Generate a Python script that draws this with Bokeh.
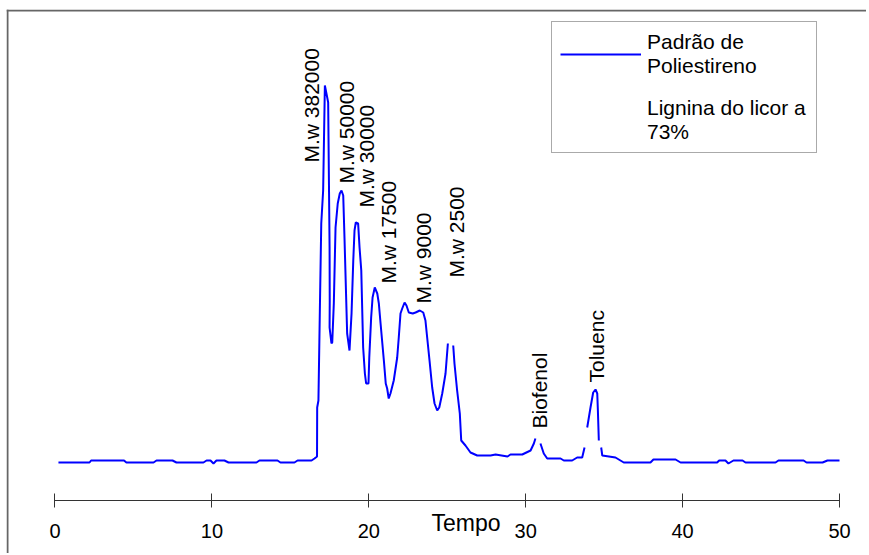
import numpy as np
from bokeh.plotting import figure
from bokeh.models import (LinearAxis, SingleIntervalTicker, Legend, LegendItem,
                          Label, Span, Range1d, ColumnDataSource)
from bokeh.core.properties import value
from bokeh.embed import file_html
from bokeh.resources import INLINE

nan = np.nan

# --- data ---
tempo = [0.22, 2.2, 2.3, 4.4, 4.55, 6.28, 6.47, 7.49, 7.74, 9.46,
         9.66, 9.91, 10.10, 10.29, 10.80, 11.06, 12.84, 13.03, 14.18, 14.37,
         15.26, 15.46, 16.35, 16.54, 16.70,
         16.71, 16.79, 16.88, 16.97, 17.09, 17.20, 17.35, 17.41, 17.50, 17.51,
         17.50, 17.62, 17.67, 17.77, 17.88, 18.02, 18.15, 18.26, 18.37, 18.45,
         18.62, 18.77, 18.90, 19.01, 19.09, 19.17, 19.32, 19.41, 19.52, 19.64,
         19.75, 19.83, 19.98, 20.03, 20.15, 20.24, 20.38, 20.54, 20.64, 20.75,
         20.96, 21.08, 21.17, 21.27, 21.38, 21.59, 21.81, 21.91, 22.02, 22.13,
         22.28, 22.40, 22.55, 22.80, 22.98, 23.25, 23.47, 23.61, 23.72, 23.87,
         24.04, 24.19, 24.36, 24.49, 24.68, 24.89, 25.04, nan, 25.38, 25.46,
         25.63, 25.80, 25.89, 26.16, 26.48, 26.91, 27.76, 28.08, 28.84, 29.03,
         29.78, 30.31, 30.52, 30.62, nan, 30.94, 31.15, 31.37, 32.22, 32.43,
         32.96, 33.28, 33.60, 33.75, nan, 33.92, 34.13, 34.30, 34.45, 34.56,
         34.60, 34.66, nan, 34.81, 34.88, 35.30, 35.72, 36.25, 37.95, 38.14,
         39.55, 39.87, 42.20, 42.33, 42.73, 42.92, 43.24, 43.82, 44.01, 45.92,
         46.11, 47.71, 47.90, 48.92, 49.23, 50.0]

sinal = [9.5, 9.5, 10.0, 10.0, 9.5, 9.5, 10, 10, 9.5, 9.5,
         10, 10, 9.25, 10, 10, 9.5, 9.5, 10, 10, 9.5,
         9.5, 10, 10, 10.5, 11,
         23.25, 25, 47.5, 69.25, 77.5, 103.75, 100.75, 99.5, 63.25, 50,
         43.25, 39.25, 39.5, 49.25, 68.25, 74.25, 76.75, 77.5, 76.25, 65.75,
         41.75, 37.5, 46.75, 60, 67.5, 69.5, 69.25, 63.25, 57.5, 38.25,
         31.75, 29.25, 29.25, 35.75, 45.75, 50.75, 53.25, 51.75, 49.25, 44.25,
         35, 29.25, 28, 25.5, 26.75, 30, 35.75, 40.75, 46.75, 48,
         49.5, 48.75, 47, 46.75, 47, 47.5, 47, 45, 40.75, 35,
         28.25, 24.25, 22.5, 23.25, 26.75, 31.75, 39.25, nan, 38.75, 34.25,
         27.5, 21.75, 15, 13.75, 12, 11.25, 11.25, 11.5, 11, 11.5,
         11.5, 12.5, 14.25, 15.5, nan, 14.25, 11.75, 10.5, 10.5, 10,
         10, 10.75, 10.75, 13.25, nan, 18.25, 23.25, 27, 27.75, 26.75,
         22.5, 15, nan, 13.25, 11.25, 11, 10.75, 9.5, 9.5, 10.25,
         10.25, 9.5, 9.5, 10, 10, 9.25, 10, 10, 9.5, 9.5,
         10, 10, 9.5, 9.5, 10, 10]

assert len(tempo) == len(sinal)

picos_texto = ["M.w 382000", "M.w 50000", "M.w 30000", "M.w 17500",
               "M.w 9000", "M.w 2500", "Biofenol", "Toluenc"]
picos_x = [16.36, 18.59, 19.86, 21.27, 23.5, 25.6, 30.89, 34.54]
picos_y = [84.5, 79.25, 73.25, 54.25, 49.25, 55.75, 18.0, 29.5]

serie_1 = "Padrão de\nPoliestireno"
serie_2 = "Lignina do licor a\n73%"
eixo_x_titulo = "Tempo"
eixo_x_min, eixo_x_max, eixo_x_passo = 0, 50, 10

FONT = "Liberation Sans"

X0, X1 = -3.091, 51.72
Y0, Y1 = -13.25, 122.75

p = figure(width=866, height=553, output_backend="svg", toolbar_location=None,
           x_range=Range1d(X0, X1), y_range=Range1d(Y0, Y1),
           x_axis_location=None, y_axis_location=None,
           min_border_left=6, min_border_right=0, min_border_top=9,
           min_border_bottom=0)
p.outline_line_color = None
p.grid.visible = False
p.background_fill_color = "white"
p.border_fill_color = "white"

# frame lines (top and left)
p.add_layout(Span(location=122.5, dimension="width", line_color="#666666", line_width=2))
p.add_layout(Span(location=-3.027, dimension="height", line_color="#666666", line_width=2))

# x axis crossing inside the plot
ax = LinearAxis(fixed_location=0, bounds=(eixo_x_min, eixo_x_max),
                ticker=SingleIntervalTicker(interval=eixo_x_passo))
ax.axis_line_color = "#333333"
ax.major_tick_line_color = "#333333"
ax.major_tick_in = 7
ax.major_tick_out = 7
ax.minor_tick_line_color = None
ax.major_label_text_font = FONT
ax.major_label_text_font_size = "20px"
ax.major_label_text_color = "black"
ax.major_label_standoff = 16
p.add_layout(ax, "below")

p.add_layout(Label(x=26.2, y=-5.5, text=eixo_x_titulo, text_align="center",
                   text_baseline="alphabetic", text_font=FONT,
                   text_font_size="23px", text_color="black"))

src = ColumnDataSource(dict(x=tempo, y=sinal))
r1 = p.line("x", "y", source=src, line_color="#0000FF", line_width=2)
r2 = p.line(x=[], y=[], line_color=None)

lab_src = ColumnDataSource(dict(x=picos_x, y=picos_y, t=picos_texto))
p.text("x", "y", text="t", source=lab_src, angle=np.pi / 2,
       text_font=value(FONT), text_font_size="21px", text_color="black",
       text_align="left", text_baseline="alphabetic")

legend = Legend(items=[LegendItem(label=serie_1, renderers=[r1]),
                       LegendItem(label=serie_2, renderers=[r2])],
                location=(545, 400))
legend.border_line_color = "#555555"
legend.border_line_width = 1
legend.background_fill_color = "white"
legend.background_fill_alpha = 1
legend.label_text_font = FONT
legend.label_text_font_size = "21px"
legend.label_text_color = "black"
legend.label_text_line_height = 1.35
legend.label_width = 161
legend.glyph_width = 81
legend.glyph_height = 20
legend.label_standoff = 6
legend.padding = 8
legend.spacing = 18
legend.margin = 0
p.add_layout(legend)

open("out.html", "w").write(file_html(p, INLINE))
